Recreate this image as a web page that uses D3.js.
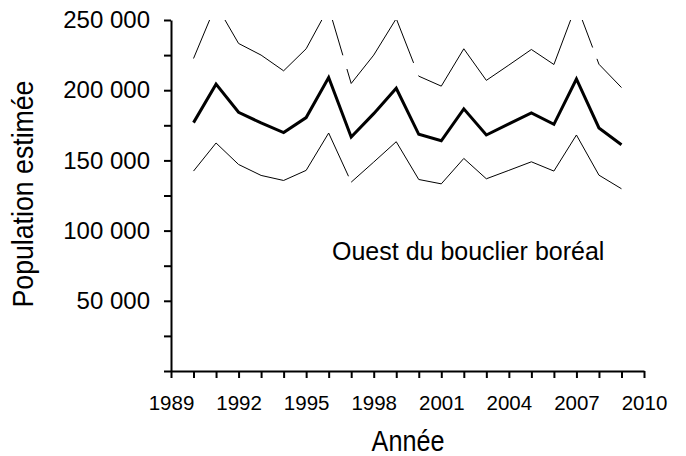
<!DOCTYPE html>
<html>
<head>
<meta charset="utf-8">
<script src="https://cdn.jsdelivr.net/npm/d3@7"></script>
<style>
  body { margin: 0; background: #fff; }
  svg text { font-family: "Liberation Sans", Arial, sans-serif; fill: #000; }
</style>
</head>
<body>
<div id="container"></div>
<script>
// Ouest du bouclier boréal - estimated population with upper / lower bounds
const years = d3.range(1990, 2010)
const estimate = [176900, 204300, 184300, 176700, 169800, 180500, 209000, 166700, 183300, 201400,
    168600, 164000, 186700, 168100, 176000, 183800, 175700, 208000, 173100, 161200]
const upper = [222600, 261000, 233300, 225000, 213800, 229500, 259000, 204800, 225000, 251000,
    210000, 202900, 229500, 207000, 217900, 229000, 218300, 261000, 218500, 201900]
const lower = [142400, 162400, 147100, 139300, 135700, 142900, 169500, 134500, 148800, 163300,
    136400, 133300, 151400, 136900, 142900, 149000, 142400, 168100, 139500, 129800]
const yTicks = d3.range(0, 250001, 25000)
const xTicks = d3.range(1989, 2011)
// segments that are broken in the original (fraction along segment starting at year)
const breaks = [
    {series: 'upper', year: 1996, from: 0.63, to: 0.81},
    {series: 'upper', year: 1999, from: 0.77, to: 0.99},
    {series: 'upper', year: 2007, from: 0.72, to: 0.91},
    {series: 'lower', year: 1996, from: 0.88, to: 1.0},
]

const config = {
    width: 686,
    height: 456,
    left: 171,
    right: 644,
    top: 20,
    bottom: 371,
}

const svg = d3.select('#container')
    .append('svg')
    .attr('width', config.width)
    .attr('height', config.height)

const x = d3.scaleLinear()
    .domain([1989, 2010])
    .range([config.left, config.right])

const y = d3.scaleLinear()
    .domain([0, 250000])
    .range([config.bottom, config.top])

const fr = d3.formatLocale({decimal: ',', thousands: '\u00a0', grouping: [3], currency: ['', '']})
const fmt = fr.format(',d')

svg.append('defs').append('clipPath')
    .attr('id', 'plot')
    .append('rect')
    .attr('x', config.left)
    .attr('y', config.top)
    .attr('width', config.right - config.left + 10)
    .attr('height', config.bottom - config.top)

const plot = svg.append('g').attr('clip-path', 'url(#plot)')

const toPts = vals => years.map((yr, i) => [x(yr), y(vals[i])])

const drawSegments = (name, vals, width) => {
    const pts = toPts(vals)
    for (let i = 0; i < pts.length - 1; i++) {
        const [x0, y0] = pts[i]
        const [x1, y1] = pts[i + 1]
        const len = Math.hypot(x1 - x0, y1 - y0)
        const seg = plot.append('line')
            .attr('x1', x0).attr('y1', y0)
            .attr('x2', x1).attr('y2', y1)
            .attr('stroke', '#000')
            .attr('stroke-width', width)
        const b = breaks.find(d => d.series === name && d.year === years[i])
        if (b) {
            seg.attr('stroke-dasharray', `${b.from * len} ${(b.to - b.from) * len} ${len}`)
        }
    }
}

drawSegments('upper', upper, 1)
drawSegments('lower', lower, 1)

plot.append('path')
    .datum(toPts(estimate))
    .attr('fill', 'none')
    .attr('stroke', '#000')
    .attr('stroke-width', 3)
    .attr('stroke-linejoin', 'miter')
    .attr('d', d3.line())

// axes
const yAxis = svg.append('g')
    .attr('transform', `translate(${config.left},0)`)
    .call(d3.axisLeft(y)
        .tickValues(yTicks)
        .tickSize(7)
        .tickSizeOuter(0)
        .tickPadding(14)
        .tickFormat(d => (d > 0 && d % 50000 === 0) ? fmt(d) : ''))

const xAxis = svg.append('g')
    .attr('transform', `translate(0,${config.bottom})`)
    .call(d3.axisBottom(x)
        .tickValues(xTicks)
        .tickSize(7)
        .tickSizeOuter(0)
        .tickPadding(17)
        .tickFormat(d => (d - 1989) % 3 === 0 ? d : ''))

svg.selectAll('.domain').attr('stroke', '#000').attr('stroke-width', 2)
svg.selectAll('.tick line').attr('stroke', '#000').attr('stroke-width', 2)
yAxis.selectAll('text').style('font-size', '24px').attr('font-family', null)
xAxis.selectAll('text').style('font-size', '20.5px').attr('font-family', null)

// axis titles are condensed in the original: squeeze them horizontally
svg.append('text')
    .attr('text-anchor', 'middle')
    .attr('transform', 'translate(33,194) rotate(-90) scale(0.89,1)')
    .text('Population estimée')
    .style('font-size', '30px')

svg.append('text')
    .attr('text-anchor', 'middle')
    .attr('transform', 'translate(408,451) scale(0.84,1)')
    .text('Année')
    .style('font-size', '30px')

svg.append('text')
    .attr('x', 332)
    .attr('y', 260)
    .text('Ouest du bouclier boréal')
    .style('font-size', '25px')
</script>
</body>
</html>
